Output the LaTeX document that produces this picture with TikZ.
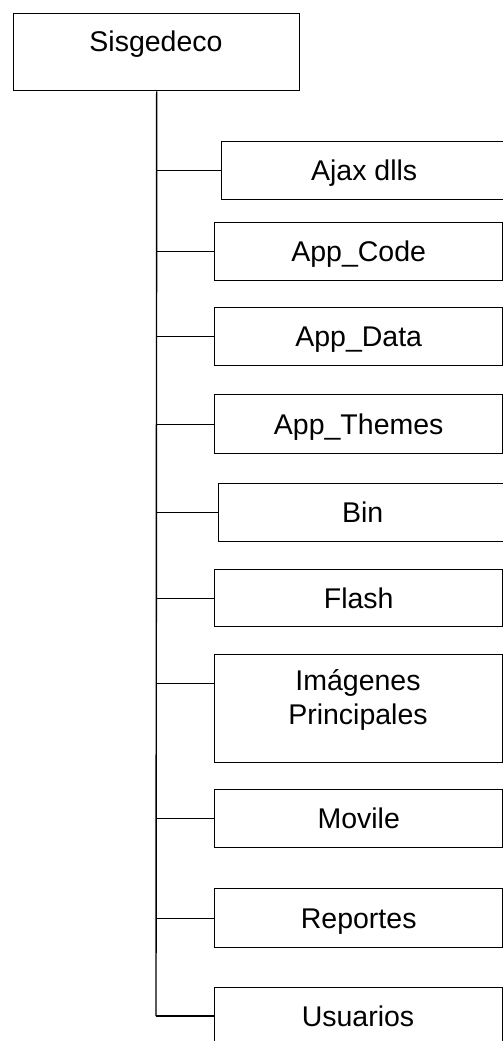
\documentclass[tikz,border=0pt]{standalone}
\usepackage{fontspec}
\setmainfont{Liberation Sans}
\begin{document}
\begin{tikzpicture}[x=1pt,y=-1pt,
  lbl/.style={font=\fontsize{28.5}{34}\selectfont, inner sep=0pt},
  box/.style={draw, line width=1.4pt, rectangle, inner sep=0pt, anchor=north west,
    font=\fontsize{28.5}{34}\selectfont, text height=20.5pt, text depth=0pt},
  link/.style={line width=1.4pt}]
\useasboundingbox[fill=white] (0,0) rectangle (503,1041);
% root
\node[box, minimum width=286pt, minimum height=77pt] (root) at (13,13) {};
\node[lbl, text height=20.5pt, text depth=0pt] (rootl) at (156,41) {Sisgedeco};
% children
\node[box, minimum width=285pt, minimum height=58pt] (b1) at (221,141) {Ajax dlls};
\node[box, minimum width=288pt, minimum height=58pt] (b2) at (214,222) {App\_Code};
\node[box, minimum width=288pt, minimum height=58pt] (b3) at (214,307) {App\_Data};
\node[box, minimum width=288pt, minimum height=59pt] (b4) at (214,394) {App\_Themes};
\node[box, minimum width=288pt, minimum height=58pt] (b5) at (218,483) {Bin};
\node[box, minimum width=288pt, minimum height=57pt] (b6) at (214,569) {Flash};
\node[box, minimum width=288pt, minimum height=108pt] (b7) at (214,654) {};
\node[lbl, align=center] (b7l) at (358,700) {Imágenes\\Principales};
\node[box, minimum width=288pt, minimum height=80pt] (b10) at (214,987) {};
\node[lbl, text height=20.5pt, text depth=0pt] (b10l) at (358,1016) {Usuarios};
\node[box, minimum width=288pt, minimum height=58pt] (b8) at (214,789) {Movile};
\node[box, minimum width=288pt, minimum height=59pt] (b9) at (214,888) {Reportes};
% trunk
\coordinate (tend) at (156,1016);
\draw[link] (root.south) -- (tend);
\foreach \b in {b1,b2,b3,b4,b5,b6,b8,b9}{
  \draw[link] (\b.west) -- (\b.west -| root.south);
}
\draw[link] ([yshift=25pt]b7.west) -- ([yshift=25pt]b7.west -| root.south);
\draw[link] (tend) -- (tend -| b10.west);
\end{tikzpicture}
\end{document}
